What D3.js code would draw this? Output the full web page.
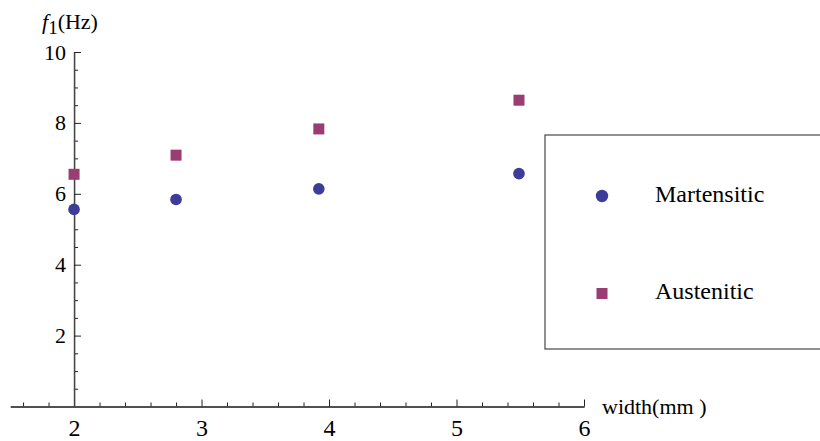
<!DOCTYPE html>
<html>
<head>
  <meta charset="UTF-8">
</head>
<body style="margin:0">
  <svg></svg>
  <script src="https://cdn.jsdelivr.net/npm/d3@7"></script>
  <script>
    // data
    let widths = [2, 2.8, 3.92, 5.49]
    let martensitic = [5.56, 5.84, 6.14, 6.57]
    let austenitic = [6.55, 7.09, 7.83, 8.64]
    let xTicks = [2, 3, 4, 5, 6]
    let yTicks = [2, 4, 6, 8, 10]
    let seriesNames = ['Martensitic', 'Austenitic']

    let font = 'Liberation Serif'
    let svg = d3.select('svg')
      .attr('width', 820)
      .attr('height', 441)

    let x = d3.scaleLinear().domain([1.5, 6]).range([10.3, 584])
    let y = d3.scaleLinear().domain([0, 10]).range([406.5, 52])

    let xMinor = d3.range(16, 61, 2).map(d => d / 10).filter(d => !xTicks.includes(d))
    let yMinor = d3.range(1, 20).map(d => d / 2).filter(d => !yTicks.includes(d))

    // x axis, ticks pointing inwards like the original
    let gx = svg.append('g').attr('transform', `translate(0,${y(0)})`)
    gx.call(d3.axisBottom(x).tickValues(xMinor).tickSizeInner(-4).tickSizeOuter(0).tickFormat(''))
    gx.append('g').call(d3.axisBottom(x).tickValues(xTicks).tickSizeInner(-7).tickSizeOuter(0).tickPadding(12).tickFormat(d3.format('d')))
    gx.selectAll('text').attr('font-size', 24)
    gx.selectAll('.domain').attr('stroke', '#444').attr('stroke-width', 1.3)
    gx.selectAll('line').attr('stroke', '#222')

    // y axis sits at x = 2
    let gy = svg.append('g').attr('transform', `translate(${x(2)},0)`)
    gy.call(d3.axisLeft(y).tickValues(yMinor).tickSizeInner(-4).tickSizeOuter(0).tickFormat(''))
    gy.append('g').call(d3.axisLeft(y).tickValues(yTicks).tickSizeInner(-7).tickSizeOuter(0).tickPadding(8).tickFormat(d3.format('d')))
    gy.selectAll('text').attr('font-size', 22)
    gy.selectAll('.domain').attr('stroke', '#444').attr('stroke-width', 1.3)
    gy.selectAll('line').attr('stroke', '#222')

    // axis titles
    let yt = svg.append('text').attr('x', 42).attr('y', 29).attr('font-size', 22)
    yt.append('tspan').attr('font-style', 'italic').text('f')
    yt.append('tspan').attr('dy', 5).attr('font-size', 19).text('1')
    yt.append('tspan').attr('dy', -5).text('(Hz)')

    svg.append('text').attr('x', 602).attr('y', 414).attr('font-size', 22).text('width(mm )')

    // points
    let blue = '#3d3d99', purple = '#993d73'
    svg.append('g').selectAll('circle')
      .data(widths.map((w, i) => [w, martensitic[i]]))
      .enter().append('circle')
      .attr('cx', d => x(d[0]))
      .attr('cy', d => y(d[1]))
      .attr('r', 5.8)
      .attr('fill', blue)

    let sq = 11
    svg.append('g').selectAll('rect')
      .data(widths.map((w, i) => [w, austenitic[i]]))
      .enter().append('rect')
      .attr('x', d => x(d[0]) - sq / 2)
      .attr('y', d => y(d[1]) - sq / 2)
      .attr('width', sq)
      .attr('height', sq)
      .attr('fill', purple)

    // legend
    let lg = svg.append('g')
    lg.append('rect')
      .attr('x', 545).attr('y', 135).attr('width', 300).attr('height', 214)
      .attr('fill', 'none').attr('stroke', '#555').attr('stroke-width', 1.3)
    lg.append('circle').attr('cx', 602).attr('cy', 196).attr('r', 6.2).attr('fill', blue)
    lg.append('rect').attr('x', 596.5).attr('y', 288).attr('width', sq).attr('height', sq).attr('fill', purple)
    lg.selectAll('text.leg')
      .data(seriesNames)
      .enter().append('text')
      .attr('class', 'leg')
      .attr('x', 655)
      .attr('y', (d, i) => i === 0 ? 202 : 299)
      .attr('font-size', 24)
      .text(d => d)

    // serif everywhere, set last so the axis defaults are overridden
    svg.selectAll('g').attr('font-family', font)
    svg.selectAll('text').attr('font-family', font).attr('fill', '#000')
  </script>
</body>
</html>
